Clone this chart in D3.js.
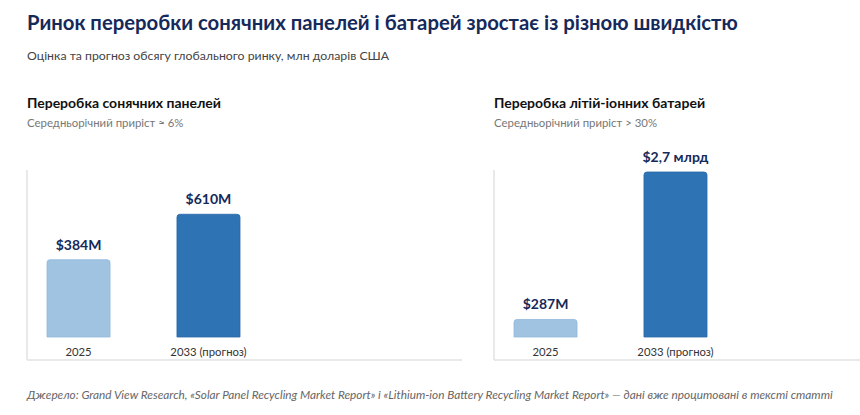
<!DOCTYPE html>
<html>
<head>
<meta charset="utf-8">
<script src="https://cdn.jsdelivr.net/npm/d3@7"></script>
<style>
  body { margin: 0; background: #fff; }
  svg { display: block; font-family: Lato, "Noto Sans", sans-serif; }
</style>
</head>
<body>
<script>
// chart values
const categories = ["2025", "2033 (прогноз)"];
const solarValues = [384, 610];
const solarLabels = ["$384M", "$610M"];
const batteryValues = [287, 2700];
const batteryLabels = ["$287M", "$2,7 млрд"];
const panelTitles = ["Переробка сонячних панелей", "Переробка літій-іонних батарей"];
const panelNotes = ["Середньорічний приріст ≈ 6%", "Середньорічний приріст > 30%"];

const title = "Ринок переробки сонячних панелей і батарей зростає із різною швидкістю";
const subtitle = "Оцінка та прогноз обсягу глобального ринку, млн доларів США";
const source = "Джерело: Grand View Research, «Solar Panel Recycling Market Report» і «Lithium-ion Battery Recycling Market Report» — дані вже процитовані в тексті статті";

const width = 860, height = 415;
const barColors = ["#a0c3e2", "#2e74b5"];
const barStrokes = ["#92b8dc", "#2968a8"];

const svg = d3.select("body").append("svg")
    .attr("width", width)
    .attr("height", height);

svg.append("text")
    .attr("x", 27).attr("y", 30)
    .attr("font-size", 20.3).attr("font-weight", 700)
    .attr("fill", "#15295a")
    .text(title);

svg.append("text")
    .attr("x", 27).attr("y", 60)
    .attr("font-size", 12.3).attr("fill", "#444")
    .text(subtitle);

svg.append("text")
    .attr("x", 27).attr("y", 399)
    .attr("font-size", 11.8).attr("font-style", "italic")
    .attr("fill", "#666")
    .text(source);

// top-rounded bar shape
function barPath(x, y, w, h, r) {
    r = Math.min(r, h, w / 2);
    return `M${x},${y + h}V${y + r}Q${x},${y} ${x + r},${y}H${x + w - r}Q${x + w},${y} ${x + w},${y + r}V${y + h}Z`;
}

const panels = [
    { x0: 27, values: solarValues, labels: solarLabels, yMax: 820 },
    { x0: 494, values: batteryValues, labels: batteryLabels, yMax: 2700 }
];

const plotTop = 172, plotBottom = 337, axisBottom = 360, axisTop = 170, panelW = 435;

panels.forEach((p, i) => {
    const g = svg.append("g").attr("transform", `translate(${p.x0},0)`);

    g.append("text")
        .attr("x", 0).attr("y", 108)
        .attr("font-size", 14).attr("font-weight", 700)
        .attr("fill", "#111")
        .text(panelTitles[i]);

    g.append("text")
        .attr("x", 0).attr("y", 127)
        .attr("font-size", 11.4).attr("fill", "#777")
        .text(panelNotes[i]);

    // frame lines
    g.append("line")
        .attr("x1", 0).attr("x2", 0)
        .attr("y1", axisTop).attr("y2", axisBottom)
        .attr("stroke", "#e2e2e2").attr("stroke-width", 1.5);
    g.append("line")
        .attr("x1", 0).attr("x2", panelW)
        .attr("y1", axisBottom).attr("y2", axisBottom)
        .attr("stroke", "#e2e2e2").attr("stroke-width", 1.5);

    const x = d3.scaleBand()
        .domain(categories)
        .range([20, 213])
        .paddingInner(0.515)
        .paddingOuter(0);

    const y = d3.scaleLinear()
        .domain([0, p.yMax])
        .range([plotBottom, plotTop]);

    const data = categories.map((c, j) => ({ cat: c, value: p.values[j], label: p.labels[j], j }));

    g.selectAll("path.bar").data(data).join("path")
        .attr("class", "bar")
        .attr("d", d => barPath(x(d.cat), y(d.value), x.bandwidth(), y(0) - y(d.value), 3))
        .attr("fill", d => barColors[d.j])
        .attr("stroke", d => barStrokes[d.j])
        .attr("stroke-width", 0.8);

    g.selectAll("text.val").data(data).join("text")
        .attr("class", "val")
        .attr("x", d => x(d.cat) + x.bandwidth() / 2)
        .attr("y", d => y(d.value) - 10)
        .attr("text-anchor", "middle")
        .attr("font-size", 14).attr("font-weight", 700)
        .attr("fill", "#15295a")
        .text(d => d.label);

    g.selectAll("text.cat").data(data).join("text")
        .attr("class", "cat")
        .attr("x", d => x(d.cat) + x.bandwidth() / 2)
        .attr("y", 356)
        .attr("text-anchor", "middle")
        .attr("font-size", 11.3).attr("fill", "#333")
        .text(d => d.cat);
});
</script>
</body>
</html>
